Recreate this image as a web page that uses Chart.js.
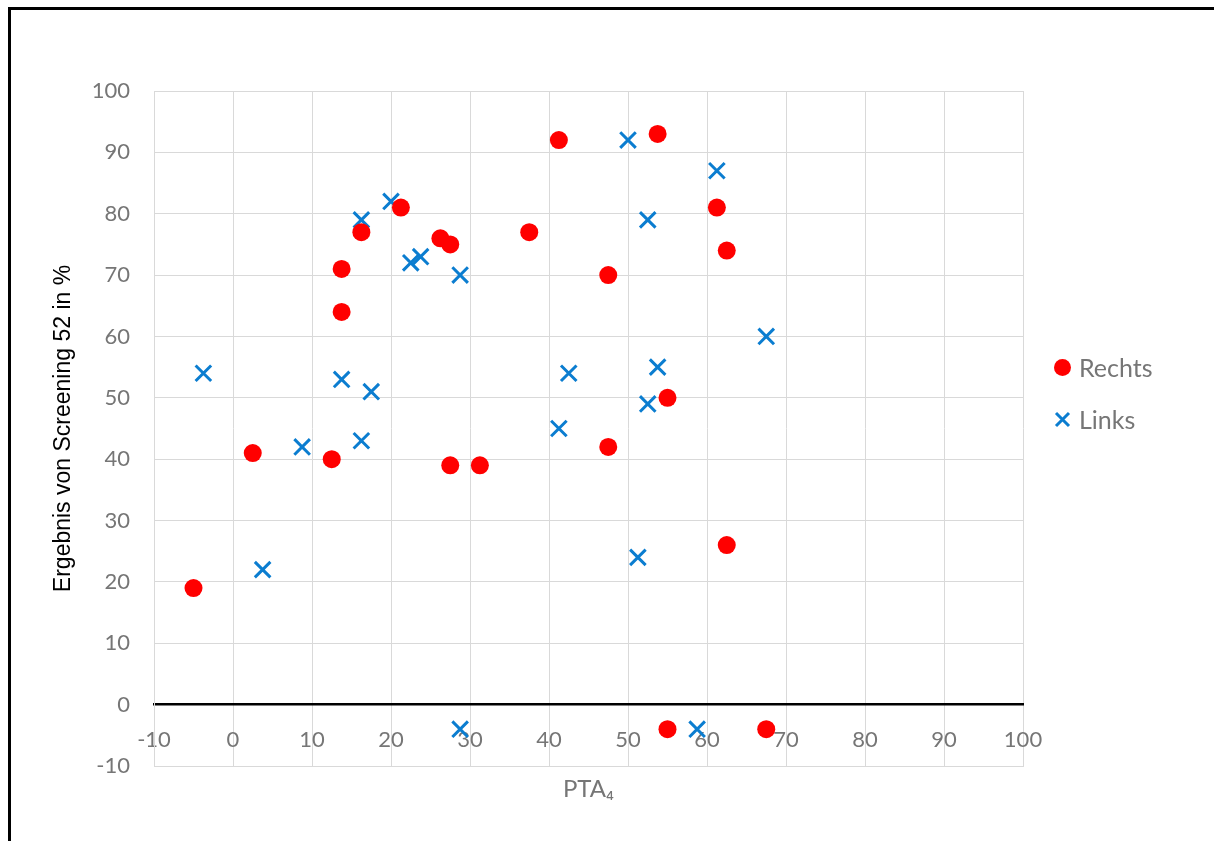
<!DOCTYPE html>
<html>
<head>
<meta charset="utf-8">
<script src="https://cdn.jsdelivr.net/npm/chart.js@4/dist/chart.umd.min.js"></script>
<style>
  html, body { margin: 0; padding: 0; overflow: hidden; background: #fff; }
  #wrap { position: relative; width: 1214px; height: 841px; }
  #frame { position: absolute; left: 8px; top: 7px; width: 1400px; height: 1000px;
           border: 3px solid #000; pointer-events: none; }
  .leg { position: absolute; left: 1054px; height: 30px; display: flex; align-items: center;
         font-family: Lato, sans-serif; font-size: 25px; color: #767676; }
  .leg svg { margin-right: 8px; }
</style>
</head>
<body>
<div id="wrap">
  <canvas id="chart" width="1214" height="841"></canvas>
  <div id="frame"></div>
  <div class="leg" style="top:352px">
    <svg width="17" height="17"><circle cx="8.5" cy="8.5" r="8.5" fill="#ff0000"/></svg>Rechts
  </div>
  <div class="leg" style="top:404px">
    <svg width="17" height="17"><path d="M2 2 L15 15 M15 2 L2 15" stroke="#0b7dd0" stroke-width="3"/></svg>Links
  </div>
</div>
<script>
// PTA4 (dB) and screening result (%) per ear
const rechtsX = [-5, 2.5, 12.5, 13.75, 13.75, 16.25, 21.25, 26.25, 27.5, 27.5, 31.25, 37.5, 41.25, 47.5, 47.5, 53.75, 55, 55, 61.25, 62.5, 62.5, 67.5];
const rechtsY = [19, 41, 40, 71, 64, 77, 81, 76, 75, 39, 39, 77, 92, 70, 42, 93, 50, -4, 81, 74, 26, -4];

const linksX = [-3.75, 3.75, 8.75, 13.75, 16.25, 16.25, 17.5, 20, 22.5, 23.75, 28.75, 28.75, 41.25, 42.5, 50, 51.25, 52.5, 52.5, 53.75, 58.75, 61.25, 67.5];
const linksY = [54, 22, 42, 53, 79, 43, 51, 82, 72, 73, 70, -4, 45, 54, 92, 24, 79, 49, 55, -4, 87, 60];

const axisMin = -10;
const axisMax = 100;
const axisStep = 10;

const toPoints = (xs, ys) => xs.map((x, i) => ({ x: x, y: ys[i] }));

const gridColor = '#d9d9d9';
const tickColor = '#767676';
const tickFont = { family: 'Lato', size: 22 };

new Chart(document.getElementById('chart').getContext('2d'), {
    type: 'scatter',
    data: {
        datasets: [
            {
                label: 'Rechts',
                data: toPoints(rechtsX, rechtsY),
                pointStyle: 'circle',
                pointRadius: 9,
                pointBorderWidth: 0,
                backgroundColor: '#ff0000',
                borderColor: '#ff0000'
            },
            {
                label: 'Links',
                data: toPoints(linksX, linksY),
                pointStyle: 'crossRot',
                pointRadius: 11,
                pointBorderWidth: 3,
                backgroundColor: '#0b7dd0',
                borderColor: '#0b7dd0'
            }
        ]
    },
    options: {
        responsive: false,
        animation: false,
        devicePixelRatio: 1,
        layout: { padding: { top: 91, right: 191, bottom: 0, left: 0 } },
        plugins: {
            legend: { display: false },
            tooltip: { enabled: false }
        },
        scales: {
            x: {
                type: 'linear',
                position: 'bottom',
                min: axisMin,
                max: axisMax,
                ticks: { display: false, stepSize: axisStep },
                grid: { color: gridColor, drawTicks: false },
                border: { color: gridColor },
                title: {
                    display: true,
                    text: 'PTA\u2084',
                    color: tickColor,
                    font: { family: 'Lato', size: 24 },
                    padding: { top: 0, bottom: 37 }
                },
                afterFit: (scale) => { scale.height = 75; }
            },
            // second x axis sitting on y = 0, carries the labels and the black zero line
            x2: {
                type: 'linear',
                position: { y: 0 },
                min: axisMin,
                max: axisMax,
                ticks: { stepSize: axisStep, color: tickColor, font: tickFont, padding: 22, maxRotation: 0 },
                grid: { display: false, drawTicks: false },
                border: { color: '#000000', width: 2.5 }
            },
            y: {
                type: 'linear',
                min: axisMin,
                max: axisMax,
                ticks: { stepSize: axisStep, color: tickColor, font: tickFont, padding: 24 },
                grid: { color: gridColor, drawTicks: false },
                border: { color: gridColor },
                title: {
                    display: true,
                    text: 'Ergebnis von Screening 52 in %',
                    color: '#000000',
                    font: { family: 'Liberation Sans', size: 23 },
                    padding: { top: 50, bottom: 0 }
                },
                afterFit: (scale) => { scale.width = 154; }
            }
        }
    }
});
</script>
</body>
</html>
